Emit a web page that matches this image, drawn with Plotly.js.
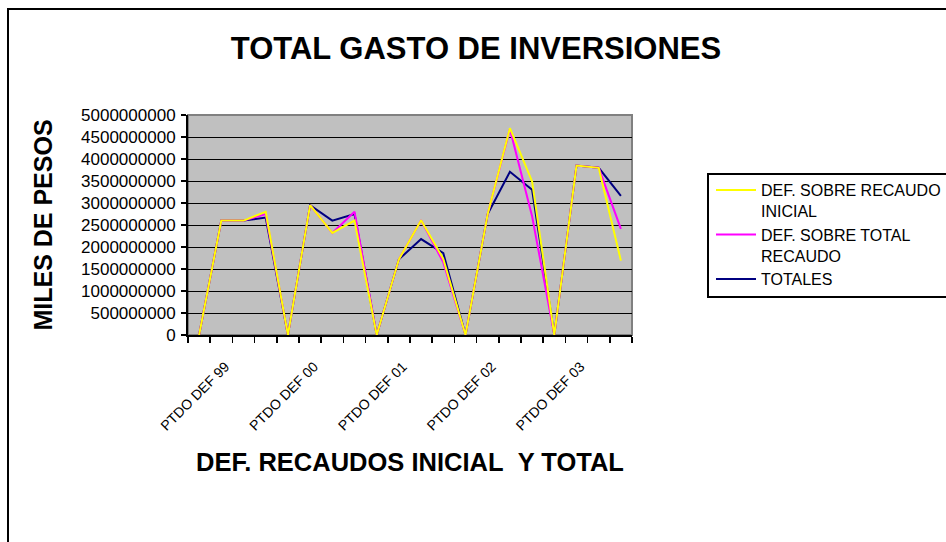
<!DOCTYPE html>
<html>
<head>
<meta charset="utf-8">
<script src="https://cdn.plot.ly/plotly-3.0.1.min.js"></script>
<style>
  html, body { margin: 0; padding: 0; background: #ffffff; }
  #chart { width: 946px; height: 542px; }
</style>
</head>
<body>
<div id="chart"></div>
<script>
// category positions (index of each point along the category axis)
var categoryIndex = [0,1,2,3,4,5,6,7,8,9,10,11,12,13,14,15,16,17,18,19];
// labelled categories and their text
var labelIndex = [1, 5, 9, 13, 17];
var labelText = ["PTDO DEF 99", "PTDO DEF 00", "PTDO DEF 01", "PTDO DEF 02", "PTDO DEF 03"];

// series names
var seriesNames = ["DEF. SOBRE RECAUDO<br>INICIAL", "DEF. SOBRE TOTAL<br>RECAUDO", "TOTALES"];

// series values (miles de pesos)
var defSobreRecaudoInicial = [0, 2600000000, 2600000000, 2800000000, 0, 2950000000, 2320000000, 2600000000, 0, 1720000000, 2610000000, 1730000000, 0, 2750000000, 4700000000, 3490000000, 0, 3850000000, 3800000000, 1690000000];
var defSobreTotalRecaudo   = [0, 2600000000, 2600000000, 2750000000, 0, 2950000000, 2320000000, 2800000000, 0, 1720000000, 2610000000, 1650000000, 0, 2750000000, 4680000000, 2700000000, 0, 3850000000, 3800000000, 2410000000];
var totales                = [0, 2600000000, 2600000000, 2670000000, 0, 2950000000, 2600000000, 2750000000, 0, 1720000000, 2180000000, 1860000000, 0, 2750000000, 3710000000, 3300000000, 0, 3850000000, 3800000000, 3160000000];

// y axis ticks
var yTickVals = [0, 500000000, 1000000000, 1500000000, 2000000000, 2500000000, 3000000000, 3500000000, 4000000000, 4500000000, 5000000000];

var traces = [
  { x: categoryIndex, y: defSobreRecaudoInicial, name: seriesNames[0], type: "scatter", mode: "lines",
    line: { color: "#FFFF00", width: 2 } },
  { x: categoryIndex, y: defSobreTotalRecaudo, name: seriesNames[1], type: "scatter", mode: "lines",
    line: { color: "#FF00FF", width: 2 } },
  { x: categoryIndex, y: totales, name: seriesNames[2], type: "scatter", mode: "lines",
    line: { color: "#000080", width: 2 } }
];
// draw order: navy at the back, then magenta, yellow on top
traces = [traces[2], traces[1], traces[0]];

var L = 188, R = 632, T = 115, B = 335;
var W = 946, H = 542;
function px2paperX(p) { return (p - L) / (R - L); }
function px2paperY(p) { return (B - p) / (B - T); }

var layout = {
  width: W, height: H,
  margin: { l: L, r: W - R, t: T, b: H - B, autoexpand: false },
  paper_bgcolor: "#ffffff",
  plot_bgcolor: "#C0C0C0",
  font: { family: "Liberation Sans, Arial, sans-serif", color: "#000000" },
  showlegend: true,
  title: {
    text: "TOTAL GASTO DE INVERSIONES",
    font: { size: 31, weight: "bold", family: "Liberation Sans, Arial, sans-serif", color: "#000" },
    xref: "container", yref: "container",
    x: 476 / W, xanchor: "center",
    y: 1 - 48 / H, yanchor: "middle"
  },
  xaxis: {
    range: [-0.5, 19.5],
    tickmode: "array",
    tickvals: labelIndex,
    ticktext: labelText,
    ticks: "",
    tickangle: -45,
    ticklabelstandoff: 16,
    ticklabelshift: 4,
    tickfont: { size: 14, family: "Liberation Sans, Arial, sans-serif", color: "#000" },
    showgrid: false,
    zeroline: false,
    showline: true, linecolor: "#000000", linewidth: 2,
    minor: { tick0: -0.5, dtick: 1, ticks: "outside", ticklen: 6, tickwidth: 1.5, tickcolor: "#000", showgrid: false },
    title: {
      text: "DEF. RECAUDOS INICIAL\u00a0\u00a0Y TOTAL",
      font: { size: 25.5, weight: "bold", family: "Liberation Sans, Arial, sans-serif", color: "#000" },
      standoff: 20
    },
    automargin: false,
    fixedrange: true
  },
  yaxis: {
    range: [0, 5000000000],
    tickmode: "array",
    tickvals: yTickVals,
    tickformat: "d",
    ticks: "outside", ticklen: 5, tickwidth: 1.5, tickcolor: "#000",
    ticklabelstandoff: 2,
    tickfont: { size: 17, family: "Liberation Sans, Arial, sans-serif", color: "#000" },
    showgrid: true, gridcolor: "#000000", gridwidth: 1,
    zeroline: false,
    showline: true, linecolor: "#000000", linewidth: 2,
    title: {
      text: "MILES DE PESOS",
      font: { size: 25, weight: "bold", family: "Liberation Sans, Arial, sans-serif", color: "#000" },
      standoff: 21
    },
    automargin: false,
    fixedrange: true
  },
  legend: {
    x: px2paperX(711), xanchor: "left",
    y: px2paperY(173), yanchor: "top",
    bgcolor: "rgba(0,0,0,0)",
    borderwidth: 0,
    font: { size: 16, family: "Liberation Sans, Arial, sans-serif", color: "#000" },
    valign: "top",
    itemwidth: 40,
    tracegroupgap: 0,
    traceorder: "reversed"
  },
  shapes: [
    // gray frame around plot area (top and right)
    { type: "rect", xref: "paper", yref: "paper", x0: 0, x1: 1, y0: 0, y1: 1,
      line: { color: "#808080", width: 2 }, fillcolor: "rgba(0,0,0,0)", layer: "below" },
    // chart area border (extends beyond right and bottom of the picture)
    { type: "rect", xref: "paper", yref: "paper",
      x0: px2paperX(8), x1: px2paperX(990), y0: px2paperY(600), y1: px2paperY(9),
      line: { color: "#000000", width: 2 }, fillcolor: "rgba(0,0,0,0)", layer: "above" },
    // legend frame (runs past the right edge of the picture)
    { type: "rect", xref: "paper", yref: "paper",
      x0: px2paperX(708), x1: px2paperX(990), y0: px2paperY(297), y1: px2paperY(174),
      line: { color: "#000000", width: 2 }, fillcolor: "#ffffff", layer: "below" }
  ]
};

Plotly.newPlot("chart", traces, layout, { displayModeBar: false, staticPlot: true });
</script>
</body>
</html>
